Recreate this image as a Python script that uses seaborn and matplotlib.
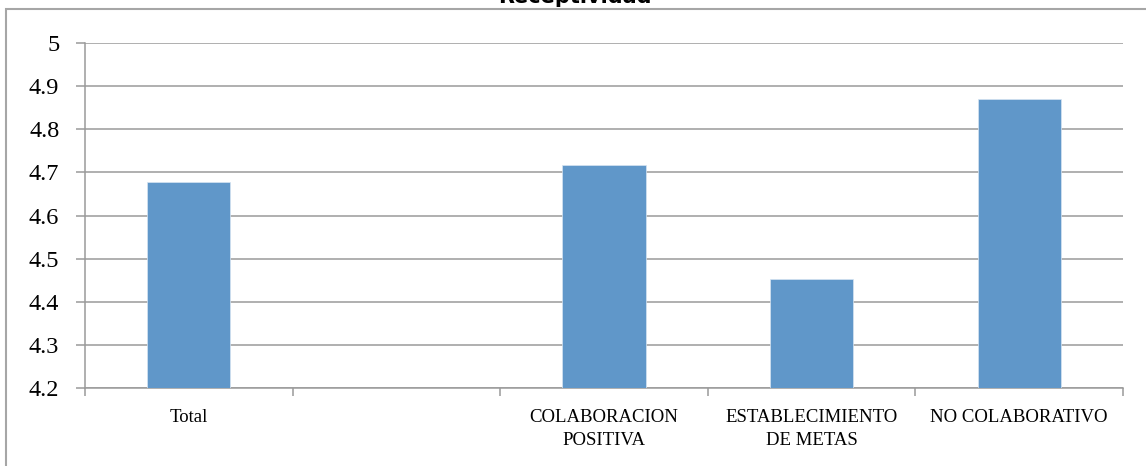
import numpy as np
import pandas as pd
import matplotlib
matplotlib.use("Agg")
import matplotlib.pyplot as plt
from matplotlib.patches import Rectangle
from matplotlib.ticker import FixedLocator
import seaborn as sns

# Data
title = "Receptividad"
categories = ["Total", " ", "COLABORACION\nPOSITIVA", "ESTABLECIMIENTO\nDE METAS", "NO COLABORATIVO"]
values = [4.677, np.nan, 4.717, 4.452, 4.871]
y_ticks = [4.2, 4.3, 4.4, 4.5, 4.6, 4.7, 4.8, 4.9, 5.0]

df = pd.DataFrame({"categoria": categories, "valor": values})

sns.set_style("white")
plt.rcParams["font.family"] = ["Liberation Serif", "DejaVu Serif"]
plt.rcParams["text.color"] = "black"
plt.rcParams["xtick.labelcolor"] = "black"
plt.rcParams["ytick.labelcolor"] = "black"

fig = plt.figure(figsize=(11.46, 4.66), dpi=100)
W, H = 1146, 466
ax = fig.add_axes([85 / W, 1 - 388 / H, (1123 - 85) / W, (388 - 43) / H])

sns.barplot(data=df, x="categoria", y="valor", order=categories, color="#6097C9",
            saturation=1, width=0.4, ax=ax, zorder=3, edgecolor="#D6E4F2", linewidth=0.5)

ax.set_ylim(4.2, 5.0)
ax.set_xlim(-0.5, len(categories) - 0.5)
ax.yaxis.set_major_locator(FixedLocator(y_ticks))
ax.set_yticklabels([("%g" % t) for t in y_ticks], fontsize=17.5)
ax.yaxis.grid(True, color="#9A9A9A", linewidth=1.1, zorder=0)
ax.xaxis.grid(False)
ax.set_xlabel("")
ax.set_ylabel("")

for side in ["top", "right"]:
    ax.spines[side].set_visible(False)
for side in ["left", "bottom"]:
    ax.spines[side].set_color("#9A9A9A")
    ax.spines[side].set_linewidth(1.1)

ax.tick_params(axis="y", which="major", length=6.5, width=1.1, color="#9A9A9A", pad=12, left=True)
ax.xaxis.set_minor_locator(FixedLocator(np.arange(-0.5, len(categories), 1.0)))
ax.tick_params(axis="x", which="major", length=0, pad=15, labelsize=13.5)
ax.tick_params(axis="x", which="minor", length=6, width=1.1, color="#9A9A9A", bottom=True)
for lab in ax.get_xticklabels():
    lab.set_linespacing(1.45)

# chart frame (clipped at the right and bottom like the reference)
fig.add_artist(Rectangle((6 / W, -0.2), 1.2, 1.2 - 9 / H, transform=fig.transFigure,
                         fill=False, edgecolor="#A6A6A6", linewidth=1.5))

# title sits mostly above the top edge, as in the reference
fig.text(575 / W, 1 - 3 / H, title, ha="center", va="baseline", fontsize=15,
         fontweight="bold", family="DejaVu Sans")

fig.savefig("out.png", dpi=100)
